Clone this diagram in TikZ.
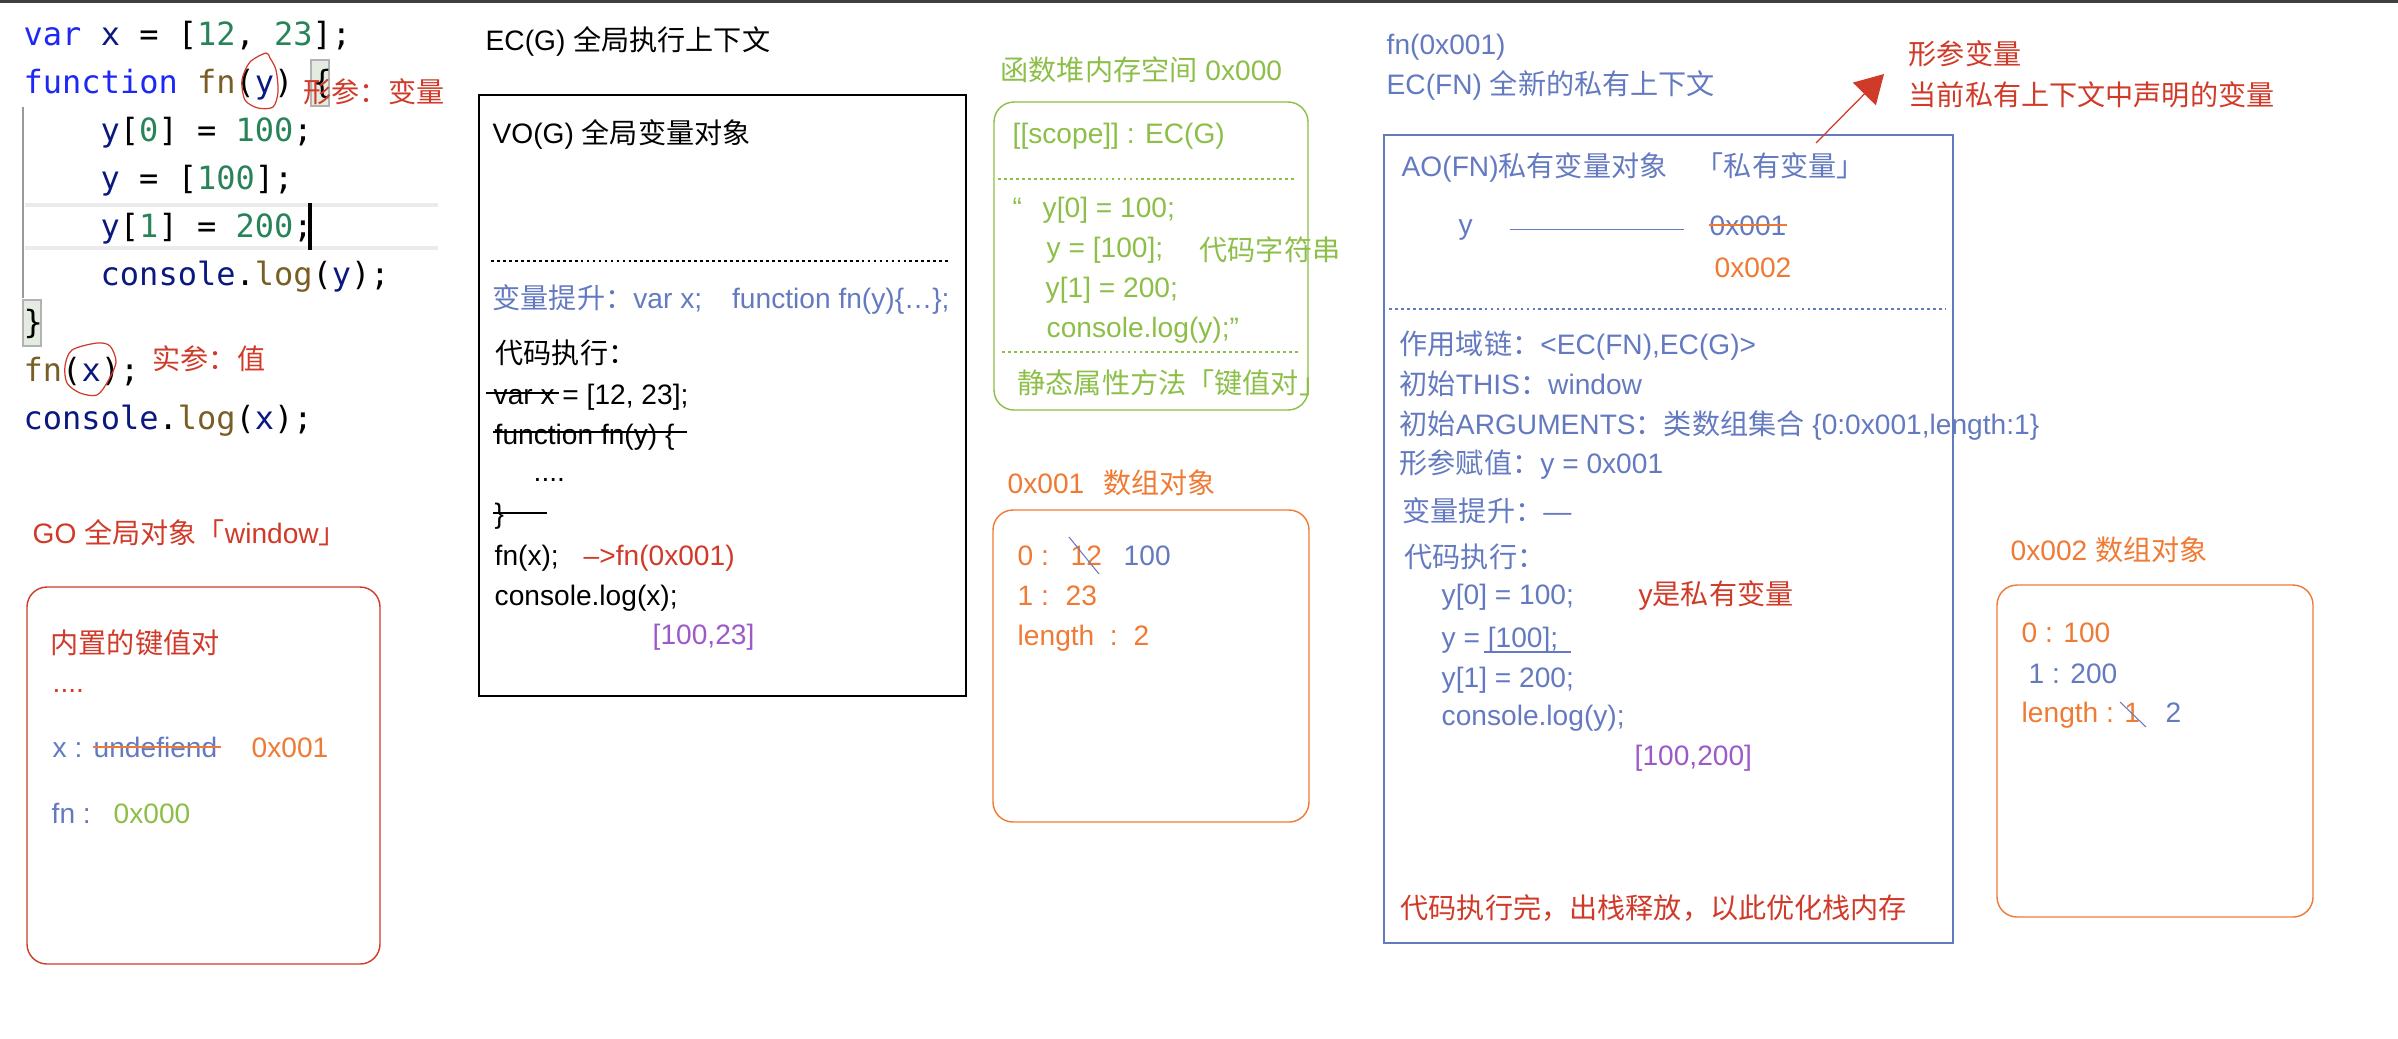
\documentclass[tikz,border=0pt]{standalone}
\usepackage{fontspec}
\setmainfont{Liberation Sans}
\newfontfamily\zhfont{Noto Sans CJK SC}
\newfontfamily\codefont{DejaVu Sans Mono}
\usetikzlibrary{arrows.meta}

% chinese characters switch to the CJK font on their own
\newXeTeXintercharclass\zhclass
\newcount\zhcnt
\newcommand\setzhrange[2]{%
  \zhcnt=#1\relax
  \loop
    \XeTeXcharclass\zhcnt=\zhclass
    \advance\zhcnt by 1
  \ifnum\zhcnt<#2\relax\repeat}
\setzhrange{"3000}{"3040}
\setzhrange{"4E00}{"A000}
\setzhrange{"FF00}{"FFF0}
\XeTeXinterchartokenstate=1
\XeTeXinterchartoks 0 \zhclass = {\zhfont}
\XeTeXinterchartoks 4095 \zhclass = {\zhfont}
\XeTeXinterchartoks \zhclass 0 = {\rmfamily}
\XeTeXinterchartoks \zhclass 4095 = {\rmfamily}

\definecolor{txtblue}{RGB}{100,122,192}
\definecolor{txtred}{RGB}{208,58,40}
\definecolor{txtorange}{RGB}{238,122,52}
\definecolor{txtgreen}{RGB}{140,190,72}
\definecolor{txtpurple}{RGB}{156,90,200}
\definecolor{kwblue}{RGB}{30,40,245}
\definecolor{varnavy}{RGB}{10,25,128}
\definecolor{numgreen}{RGB}{40,132,88}
\definecolor{fnbrown}{RGB}{121,94,38}
\definecolor{bracebg}{RGB}{228,236,226}

\newcommand\kw[1]{\textcolor{kwblue}{#1}}
\newcommand\vn[1]{\textcolor{varnavy}{#1}}
\newcommand\nm[1]{\textcolor{numgreen}{#1}}
\newcommand\fnc[1]{\textcolor{fnbrown}{#1}}

\begin{document}
\begin{tikzpicture}[
        x=0.01cm, y=-0.01cm,
        every node/.style={anchor=base west, inner sep=0pt, font=\fontsize{8}{11.6}\selectfont},
        codeline/.style={font=\codefont\fontsize{9.1}{11}\selectfont},
        framebox/.style={draw, line width=0.4pt},
        roundbox/.style={draw, line width=0.4pt, rounded corners=0.2cm},
        dotline/.style={line width=0.5pt, dash pattern=on 0.8pt off 0.9pt},
        strike/.style={line width=0.5pt},
        thinstrike/.style={draw=txtblue, line width=0.3pt},
        scribble/.style={draw=txtred, line width=0.35pt},
        arrow/.style={-{Triangle[length=0.28cm,width=0.32cm]}, draw=txtred, fill=txtred, line width=0.35pt}
        ]
        \useasboundingbox (0,0) rectangle (2398,1038);
        \fill[black!75] (0,0) rectangle (2398,3);

        % editor
        \fill[black!8] (25,203) rectangle (438,207);
        \fill[black!8] (25,246) rectangle (438,250);
        \draw[black!40, line width=0.6pt] (23,107) -- (23,298);
        \filldraw[fill=bracebg, draw=black!30, line width=0.6pt] (311,60) rectangle (329,106);
        \filldraw[fill=bracebg, draw=black!30, line width=0.6pt] (23,300) rectangle (41,346);
        \draw[line width=1pt] (310,203) -- (310,250);

        \node[codeline] (c1) at (23,45) {\kw{var} \vn{x} = [\nm{12}, \nm{23}];};
        \node[codeline] (c2) at (23,93) {\kw{function} \fnc{fn}(\vn{y}) \{};
        \node[codeline] (c3) at (100,141) {\vn{y}[\nm{0}] = \nm{100};};
        \node[codeline] (c4) at (100,189) {\vn{y} = [\nm{100}];};
        \node[codeline] (c5) at (100,237) {\vn{y}[\nm{1}] = \nm{200};};
        \node[codeline] (c6) at (100,285) {\vn{console}.\fnc{log}(\vn{y});};
        \node[codeline] (c7) at (23,333) {\}};
        \node[codeline] (c8) at (23,381) {\fnc{fn}(\vn{x});};
        \node[codeline] (c9) at (23,429) {\vn{console}.\fnc{log}(\vn{x});};

        \draw[scribble] plot[smooth cycle] coordinates {(266,53) (250,62) (242,80) (245,100) (258,108) (273,107) (278,92) (276,70) (270,58)};
        \draw[scribble] plot[smooth cycle] coordinates {(72,350) (97,343) (110,346) (116,362) (108,381) (97,395) (80,393) (67,383) (65,366)};
        \node[text=txtred] (parnote) at (303,102) {形参：变量};
        \node[text=txtred] (argnote) at (152,369) {实参：值};

        % global object
        \node[text=txtred] (gotitle) at (32,543) {GO 全局对象「window」};
        \draw[roundbox, txtred] (27,587) rectangle (380,964);
        \node[text=txtred] (gokv) at (50,653) {内置的键值对};
        \node[text=txtred] (godots) at (52,692) {....};
        \node[text=txtblue] (gox) at (52,757) {x :};
        \node[text=txtblue] (goundef) at (93,757) {undefiend};
        \node[text=txtorange] (goxaddr) at (251,757) {0x001};
        \draw[strike, txtorange] (goundef.west) -- ([xshift=0.03cm]goundef.east);
        \node[text=txtblue] (gofn) at (51,823) {fn :};
        \node[text=txtgreen] (gofnaddr) at (113,823) {0x000};

        % global context
        \node (ecgtitle) at (485,50) {EC(G) 全局执行上下文};
        \draw[framebox] (479,95) rectangle (966,696);
        \node (vog) at (492,143) {VO(G) 全局变量对象};
        \draw[dotline] (491,261) -- (950,261);
        \node[text=txtblue] (ecghoist) at (492,308) {变量提升：var x;\hspace{0.3cm}function fn(y)\{…\};};
        \node (ecgrun) at (495,363) {代码执行：};
        \node (ecgl1) at (493,404) {var x = [12, 23];};
        \node (ecgl2) at (494,444) {function fn(y) \{};
        \node (ecgl3) at (533,481) {....};
        \node (ecgl4) at (494,523) {\}};
        \node (ecgl5) at (494,565) {fn(x);};
        \node[text=txtred] (ecgcall) at (583,565) {–>fn(0x001)};
        \node (ecgl6) at (494,605) {console.log(x);};
        \node[text=txtpurple] (ecgout) at (652,644) {[100,23]};
        \draw[strike] (486,393) -- (559,393);
        \draw[strike] (493,432) -- (687,432);
        \draw[strike] (493,513) -- (547,513);

        % function heap
        \node[text=txtgreen] (heaptitle) at (1000,80) {函数堆内存空间 0x000};
        \draw[roundbox, txtgreen] (994,102) rectangle (1308,410);
        \node[text=txtgreen] (heapscope) at (1012,143) {[[scope]] : EC(G)};
        \draw[dotline, txtgreen] (998,179) -- (1295,179);
        \node[text=txtgreen] (heapq) at (1012,217) {“};
        \node[text=txtgreen] (heapl1) at (1042,217) {y[0] = 100;};
        \node[text=txtgreen] (heapl2) at (1046,257) {y = [100];};
        \node[text=txtgreen] (heapstr) at (1199,260) {代码字符串};
        \node[text=txtgreen] (heapl3) at (1045,297) {y[1] = 200;};
        \node[text=txtgreen] (heapl4) at (1046,337) {console.log(y);”};
        \draw[dotline, txtgreen] (1002,352) -- (1298,352);
        \node[text=txtgreen] (heapkv) at (1017,393) {静态属性方法「键值对」};

        % array 0x001
        \node[text=txtorange] (arr1title) at (1007,493) {0x001\hspace{0.19cm}数组对象};
        \draw[roundbox, txtorange] (993,510) rectangle (1309,822);
        \node[text=txtorange] (arr1k0) at (1017,565) {0 :};
        \node[text=txtorange] (arr1v0) at (1070,565) {12};
        \node[text=txtblue] (arr1n0) at (1123,565) {100};
        \draw[thinstrike] (1069,537) -- (1099,574);
        \node[text=txtorange] (arr1k1) at (1017,605) {1 :};
        \node[text=txtorange] (arr1v1) at (1065,605) {23};
        \node[text=txtorange] (arr1len) at (1017,645) {length~~:};
        \node[text=txtorange] (arr1lv) at (1133,645) {2};

        % function context
        \node[text=txtblue] (fncall) at (1386,54) {fn(0x001)};
        \node[text=txtblue] (ecfntitle) at (1386,94) {EC(FN) 全新的私有上下文};
        \draw[framebox, txtblue] (1384,135) rectangle (1953,943);
        \node[text=txtblue] (aotitle) at (1401,176) {AO(FN)私有变量对象};
        \node[text=txtblue] (aopriv) at (1695,176) {「私有变量」};
        \node[text=txtblue] (aoy) at (1458,234) {y};
        \node[text=txtblue] (aoold) at (1709,235) {0x001};
        \draw[txtblue, line width=0.4pt, shorten <=0.36cm, shorten >=0.25cm] (aoy.east) -- (aoy.east -| aoold.west);
        \draw[strike, txtorange] (aoold.west) -- (aoold.east);
        \node[text=txtorange] (aonew) at (1714,277) {0x002};
        \draw[dotline, txtblue] (1389,309) -- (1946,309);
        \node[text=txtblue] (aoscope) at (1399,354) {作用域链：<EC(FN),EC(G)>};
        \node[text=txtblue] (aothis) at (1399,394) {初始THIS：window};
        \node[text=txtblue] (aoargs) at (1399,434) {初始ARGUMENTS：类数组集合 \{0:0x001,length:1\}};
        \node[text=txtblue] (aoassign) at (1399,473) {形参赋值：y = 0x001};
        \node[text=txtblue] (aohoist) at (1402,521) {变量提升：—};
        \node[text=txtblue] (aorun) at (1404,567) {代码执行：};
        \node[text=txtblue] (aol1) at (1441,604) {y[0] = 100;};
        \node[text=txtred] (aonote) at (1638,604) {y是私有变量};
        \node[text=txtblue] (aol2) at (1441,647) {y = [100];};
        \draw[txtblue, line width=0.4pt] (1484,652) -- (1571,652);
        \node[text=txtblue] (aol3) at (1441,687) {y[1] = 200;};
        \node[text=txtblue] (aol4) at (1441,725) {console.log(y);};
        \node[text=txtpurple] (aoout) at (1634,765) {[100,200]};
        \node[text=txtred] (aodone) at (1400,918) {代码执行完，出栈释放，以此优化栈内存};

        \node[text=txtred, anchor=west, align=left] (pvnote) at (1908,74) {形参变量\\当前私有上下文中声明的变量};
        \coordinate (pvtail) at (1816,143);
        \draw[arrow] (pvtail) -- ([xshift=-0.24cm]pvnote.west);

        % array 0x002
        \node[text=txtorange] (arr2title) at (2010,560) {0x002 数组对象};
        \draw[roundbox, txtorange] (1997,585) rectangle (2313,917);
        \node[text=txtorange] (arr2k0) at (2021,642) {0 : 100};
        \node[text=txtblue] (arr2k1) at (2028,683) {1 : 200};
        \node[text=txtorange] (arr2len) at (2021,722) {length : 1};
        \node[text=txtblue] (arr2lv) at (2165,722) {2};
        \draw[thinstrike] (2120,702) -- (2146,727);
\end{tikzpicture}
\end{document}
